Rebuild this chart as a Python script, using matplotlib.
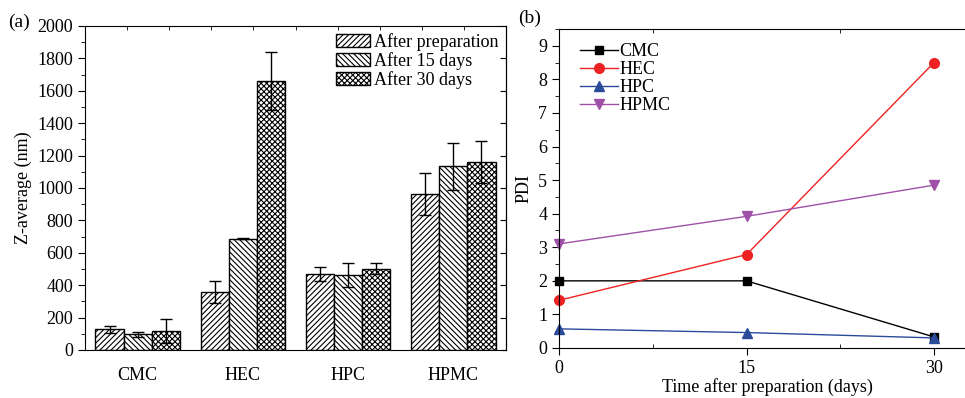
import numpy as np
import matplotlib
matplotlib.use("Agg")
import matplotlib.pyplot as plt

plt.rcParams['font.family'] = ['Liberation Serif', 'DejaVu Serif']
plt.rcParams['font.size'] = 13
plt.rcParams['hatch.linewidth'] = 0.8

# (a) Z-average size
groups = ['CMC', 'HEC', 'HPC', 'HPMC']
series = ['After preparation', 'After 15 days', 'After 30 days']
z_prep = [128, 357, 468, 965]
z_15 = [97, 688, 462, 1135]
z_30 = [118, 1660, 503, 1160]
err_prep = [20, 68, 45, 130]
err_15 = [15, 5, 72, 145]
err_30 = [75, 180, 32, 130]

# (b) PDI
days = [0, 15, 30]
pdi_cmc = [2.0, 2.0, 0.33]
pdi_hec = [1.42, 2.78, 8.5]
pdi_hpc = [0.57, 0.46, 0.30]
pdi_hpmc = [3.1, 3.92, 4.85]

fig = plt.figure(figsize=(9.65, 3.98), dpi=100)

# ---- panel (a)
ax1 = fig.add_axes([85 / 965, 1 - 350 / 398, (506 - 85) / 965, (350 - 26) / 398])
x = np.arange(len(groups))
w = 0.267
hatches = ['//////', '\\\\\\\\\\\\', 'xxxxxx']
vals = [z_prep, z_15, z_30]
errs = [err_prep, err_15, err_30]
for i in range(3):
    ax1.bar(x + (i - 1) * w, vals[i], w, yerr=errs[i], color='white', edgecolor='black',
            hatch=hatches[i], linewidth=1, label=series[i],
            error_kw=dict(ecolor='black', elinewidth=1, capsize=4, capthick=1))
ax1.set_xlim(-0.5, 3.5)
ax1.set_ylim(0, 2000)
ax1.set_yticks(np.arange(0, 2001, 200))
ax1.set_yticks(np.arange(0, 2001, 100), minor=True)
ax1.set_xticks(x)
ax1.set_xticklabels(groups)
ax1.tick_params(axis='x', which='major', length=0, pad=12)
ax1.set_xticks(np.arange(-0.5, 3.5, 0.4), minor=True)
ax1.tick_params(axis='x', which='minor', bottom=False, top=True, direction='in', length=3)
ax1.tick_params(axis='y', which='major', direction='out', length=5)
ax1.tick_params(axis='y', which='minor', direction='out', length=3)
sec = ax1.secondary_yaxis('right')
sec.set_yticks(np.arange(0, 2001, 200))
sec.tick_params(direction='in', length=4, labelright=False)
ax1.set_ylabel('Z-average (nm)', labelpad=4)
ax1.legend(loc='upper right', frameon=False, handlelength=1.85, handleheight=0.75,
           handletextpad=0.25, labelspacing=0.05, borderaxespad=0.2, borderpad=0.2)
fig.text(8 / 965, 1 - 22 / 398, '(a)', fontsize=14, va='center', ha='left')

# ---- panel (b)
ax2 = fig.add_axes([559 / 965, 1 - 348 / 398, (975 - 559) / 965, (348 - 29) / 398])
ax2.plot(days, pdi_cmc, color='black', marker='s', ms=6, lw=1, label='CMC', clip_on=False)
ax2.plot(days, pdi_hec, color='#ee2222', marker='o', ms=7, lw=1, label='HEC', clip_on=False)
ax2.plot(days, pdi_hpc, color='#2a4a9a', marker='^', ms=7, lw=1, label='HPC', clip_on=False)
ax2.plot(days, pdi_hpmc, color='#a050a8', marker='v', ms=7, lw=1, label='HPMC', clip_on=False)
ax2.set_xlim(0, (975 - 559) / 12.5)
ax2.set_ylim(0, 9.5)
ax2.set_xticks(days)
ax2.set_yticks(np.arange(0, 10, 1))
ax2.set_yticks(np.arange(0, 9.6, 0.5), minor=True)
ax2.tick_params(axis='x', which='major', direction='out', length=5)
ax2.tick_params(axis='y', which='major', direction='out', length=5)
ax2.tick_params(axis='y', which='minor', direction='out', length=3)
ax2.set_xticks(np.arange(0, 33, 7.5), minor=True)
ax2.tick_params(axis='x', which='minor', direction='in', length=3, top=True)
ax2.set_xlabel('Time after preparation (days)', labelpad=1)
ax2.set_ylabel('PDI', labelpad=4)
ax2.legend(loc='upper left', frameon=False, handlelength=2.1, handletextpad=0.1,
           labelspacing=0.05, borderaxespad=0.4, bbox_to_anchor=(0.015, 1.0))
fig.text(518 / 965, 1 - 18 / 398, '(b)', fontsize=14, va='center', ha='left')

fig.savefig('out.png', dpi=100)
